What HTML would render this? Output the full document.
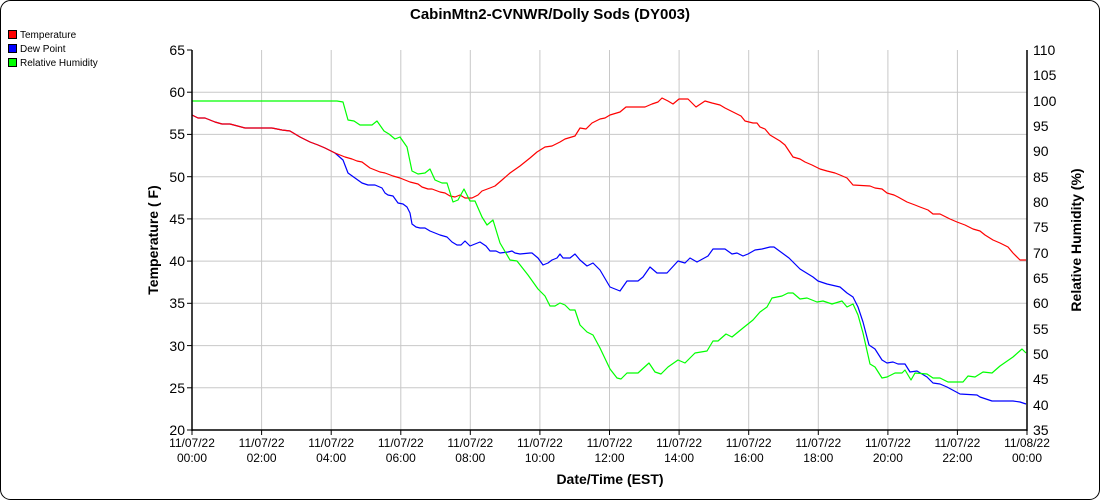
<!DOCTYPE html>
<html><head><meta charset="utf-8"><style>
html,body{margin:0;padding:0;background:#fff;}
svg{display:block;font-family:"Liberation Sans",Arial,sans-serif;}
</style></head><body>
<svg width="1100" height="500" viewBox="0 0 1100 500" xmlns="http://www.w3.org/2000/svg">
<rect x="0.5" y="0.5" width="1099" height="499" rx="10" ry="10" fill="#fff" stroke="#000" stroke-width="1"/>
<text x="550" y="19" font-size="15" font-weight="bold" text-anchor="middle">CabinMtn2-CVNWR/Dolly Sods (DY003)</text>
<rect x="8.5" y="30.5" width="8" height="8" fill="#f00" stroke="#000"/>
<text x="20" y="38" font-size="10">Temperature</text>
<rect x="8.5" y="44.5" width="8" height="8" fill="#00f" stroke="#000"/>
<text x="20" y="52" font-size="10">Dew Point</text>
<rect x="8.5" y="58.5" width="8" height="8" fill="#0f0" stroke="#000"/>
<text x="20" y="66" font-size="10">Relative Humidity</text>
<g stroke="#c8c8c8" stroke-width="1">
<line x1="192" y1="92.2" x2="1027" y2="92.2"/><line x1="192" y1="134.4" x2="1027" y2="134.4"/><line x1="192" y1="176.7" x2="1027" y2="176.7"/><line x1="192" y1="218.9" x2="1027" y2="218.9"/><line x1="192" y1="261.1" x2="1027" y2="261.1"/><line x1="192" y1="303.3" x2="1027" y2="303.3"/><line x1="192" y1="345.6" x2="1027" y2="345.6"/><line x1="192" y1="387.8" x2="1027" y2="387.8"/>
<line x1="261.6" y1="50" x2="261.6" y2="430"/><line x1="331.2" y1="50" x2="331.2" y2="430"/><line x1="400.8" y1="50" x2="400.8" y2="430"/><line x1="470.3" y1="50" x2="470.3" y2="430"/><line x1="539.9" y1="50" x2="539.9" y2="430"/><line x1="609.5" y1="50" x2="609.5" y2="430"/><line x1="679.1" y1="50" x2="679.1" y2="430"/><line x1="748.7" y1="50" x2="748.7" y2="430"/><line x1="818.3" y1="50" x2="818.3" y2="430"/><line x1="887.9" y1="50" x2="887.9" y2="430"/><line x1="957.4" y1="50" x2="957.4" y2="430"/>
</g>
<g fill="none" stroke-width="1.2" stroke-linejoin="round">
<polyline stroke="#00f" points="192,115 198,118 205,118 215,122 222,124 230,124 245,128 260,128 272,128 282,130 290,131 300,137 310,142 318,145 325,148 335,153 343,160 348,173 355,178 362,183 368,185 375,185 382,188 385,193 388,195 393,196 398,203 403,204 407,207 410,213 412,224 416,227 420,228 425,228 430,231 435,233 440,235 447,237 452,242 457,245 461,245 465,241 470,246 475,244 480,242 486,246 490,251 496,251 500,253 508,252 512,251 515,253 520,254 530,253 532,253 538,258 543,265 548,263 552,260 557,258 560,254 563,258 570,258 575,254 580,260 587,266 593,263 600,270 610,287 620,291 627,281 638,281 643,277 650,267 657,273 667,273 678,261 685,263 690,258 697,262 708,256 713,249 725,249 732,254 737,253 743,256 748,254 755,250 762,249 770,247 774,247 789,258 800,269 813,277 818,281 827,284 840,287 847,293 853,297 858,307 863,322 869,345 875,349 882,360 887,363 893,362 898,364 905,364 910,372 917,371 927,377 933,383 940,384 947,387 960,394 977,395 980,397 992,401 1013,401 1020,402 1026,404"/>
<polyline stroke="#f00" points="192,115 198,118 205,118 215,122 222,124 230,124 245,128 260,128 272,128 282,130 290,131 300,137 310,142 318,145 325,148 335,153 345,157 352,159 357,161 362,162 370,168 380,172 385,173 393,176 400,178 405,180 410,182 418,184 422,187 428,189 432,189 440,192 445,193 450,196 455,197 460,195 465,198 472,198 478,195 482,191 490,188 495,186 502,180 510,173 520,166 530,158 537,152 545,147 552,146 560,142 565,139 575,136 580,128 586,129 592,123 600,119 605,118 610,115 620,112 626,107 645,107 652,104 658,102 662,98 668,101 673,104 679,99 688,99 691,102 696,107 705,101 712,103 720,105 725,108 735,113 741,116 745,121 753,123 757,123 760,127 765,129 770,135 780,141 785,145 793,157 800,159 805,162 812,165 820,169 827,171 835,173 840,175 847,178 853,185 870,186 875,188 882,189 887,193 894,195 898,197 907,202 915,205 920,207 928,210 933,214 940,214 950,219 957,222 965,225 973,229 980,231 985,235 993,240 1000,243 1008,247 1013,253 1020,260 1026,260"/>
<polyline stroke="#0f0" points="192,101 337,101 343,102 348,120 354,121 360,125 372,125 377,121 384,131 389,134 395,139 400,137 407,147 412,171 418,174 425,173 430,169 435,180 442,183 447,183 453,202 458,200 464,189 470,201 475,201 482,217 487,225 493,220 500,243 510,260 517,261 528,275 538,289 545,296 550,306 555,306 560,303 565,305 570,310 575,310 580,325 587,332 593,335 600,348 610,369 617,378 621,379 627,373 638,373 649,363 655,372 661,374 668,367 678,360 685,363 695,353 707,351 713,341 718,341 726,334 732,337 743,328 753,320 760,312 767,307 772,298 782,296 788,293 793,293 800,299 807,298 817,302 823,301 832,304 842,301 847,307 853,304 858,315 863,333 870,364 875,367 882,378 887,377 895,373 902,373 905,370 911,380 915,373 927,374 933,378 940,378 948,382 963,382 968,376 975,377 983,372 992,373 1000,366 1013,357 1022,349 1026,353"/>
</g>
<g stroke="#000" stroke-width="1.5">
<line x1="192" y1="50" x2="192" y2="431"/>
<line x1="1027" y1="50" x2="1027" y2="431"/>
<line x1="192" y1="430" x2="1027" y2="430"/>
</g>
<g stroke="#000" stroke-width="1">
<line x1="187" y1="50" x2="192" y2="50"/><line x1="187" y1="92.2" x2="192" y2="92.2"/><line x1="187" y1="134.4" x2="192" y2="134.4"/><line x1="187" y1="176.7" x2="192" y2="176.7"/><line x1="187" y1="218.9" x2="192" y2="218.9"/><line x1="187" y1="261.1" x2="192" y2="261.1"/><line x1="187" y1="303.3" x2="192" y2="303.3"/><line x1="187" y1="345.6" x2="192" y2="345.6"/><line x1="187" y1="387.8" x2="192" y2="387.8"/><line x1="187" y1="430" x2="192" y2="430"/>
<line x1="192" y1="430" x2="192" y2="435"/><line x1="261.6" y1="430" x2="261.6" y2="435"/><line x1="331.2" y1="430" x2="331.2" y2="435"/><line x1="400.8" y1="430" x2="400.8" y2="435"/><line x1="470.3" y1="430" x2="470.3" y2="435"/><line x1="539.9" y1="430" x2="539.9" y2="435"/><line x1="609.5" y1="430" x2="609.5" y2="435"/><line x1="679.1" y1="430" x2="679.1" y2="435"/><line x1="748.7" y1="430" x2="748.7" y2="435"/><line x1="818.3" y1="430" x2="818.3" y2="435"/><line x1="887.9" y1="430" x2="887.9" y2="435"/><line x1="957.4" y1="430" x2="957.4" y2="435"/><line x1="1027" y1="430" x2="1027" y2="435"/>
</g>
<g font-size="14" text-anchor="end">
<text x="185" y="55">65</text><text x="185" y="97">60</text><text x="185" y="139">55</text><text x="185" y="182">50</text><text x="185" y="224">45</text><text x="185" y="266">40</text><text x="185" y="308">35</text><text x="185" y="351">30</text><text x="185" y="393">25</text><text x="185" y="435">20</text>
</g>
<g font-size="14" text-anchor="start">
<text x="1033" y="55">110</text><text x="1033" y="80">105</text><text x="1033" y="106">100</text><text x="1033" y="131">95</text><text x="1033" y="156">90</text><text x="1033" y="182">85</text><text x="1033" y="207">80</text><text x="1033" y="232">75</text><text x="1033" y="258">70</text><text x="1033" y="283">65</text><text x="1033" y="308">60</text><text x="1033" y="334">55</text><text x="1033" y="359">50</text><text x="1033" y="384">45</text><text x="1033" y="410">40</text><text x="1033" y="435">35</text>
</g>
<g font-size="12" text-anchor="middle">
<text x="192" y="447">11/07/22</text><text x="192" y="462">00:00</text>
<text x="261.6" y="447">11/07/22</text><text x="261.6" y="462">02:00</text>
<text x="331.2" y="447">11/07/22</text><text x="331.2" y="462">04:00</text>
<text x="400.8" y="447">11/07/22</text><text x="400.8" y="462">06:00</text>
<text x="470.3" y="447">11/07/22</text><text x="470.3" y="462">08:00</text>
<text x="539.9" y="447">11/07/22</text><text x="539.9" y="462">10:00</text>
<text x="609.5" y="447">11/07/22</text><text x="609.5" y="462">12:00</text>
<text x="679.1" y="447">11/07/22</text><text x="679.1" y="462">14:00</text>
<text x="748.7" y="447">11/07/22</text><text x="748.7" y="462">16:00</text>
<text x="818.3" y="447">11/07/22</text><text x="818.3" y="462">18:00</text>
<text x="887.9" y="447">11/07/22</text><text x="887.9" y="462">20:00</text>
<text x="957.4" y="447">11/07/22</text><text x="957.4" y="462">22:00</text>
<text x="1027" y="447">11/08/22</text><text x="1027" y="462">00:00</text>
</g>
<text x="610" y="484" font-size="14" font-weight="bold" text-anchor="middle">Date/Time (EST)</text>
<text transform="translate(158,240) rotate(-90)" font-size="14" font-weight="bold" text-anchor="middle">Temperature ( F)</text>
<text transform="translate(1081,240) rotate(-90)" font-size="14" font-weight="bold" text-anchor="middle">Relative Humidity (%)</text>
</svg>
</body></html>
